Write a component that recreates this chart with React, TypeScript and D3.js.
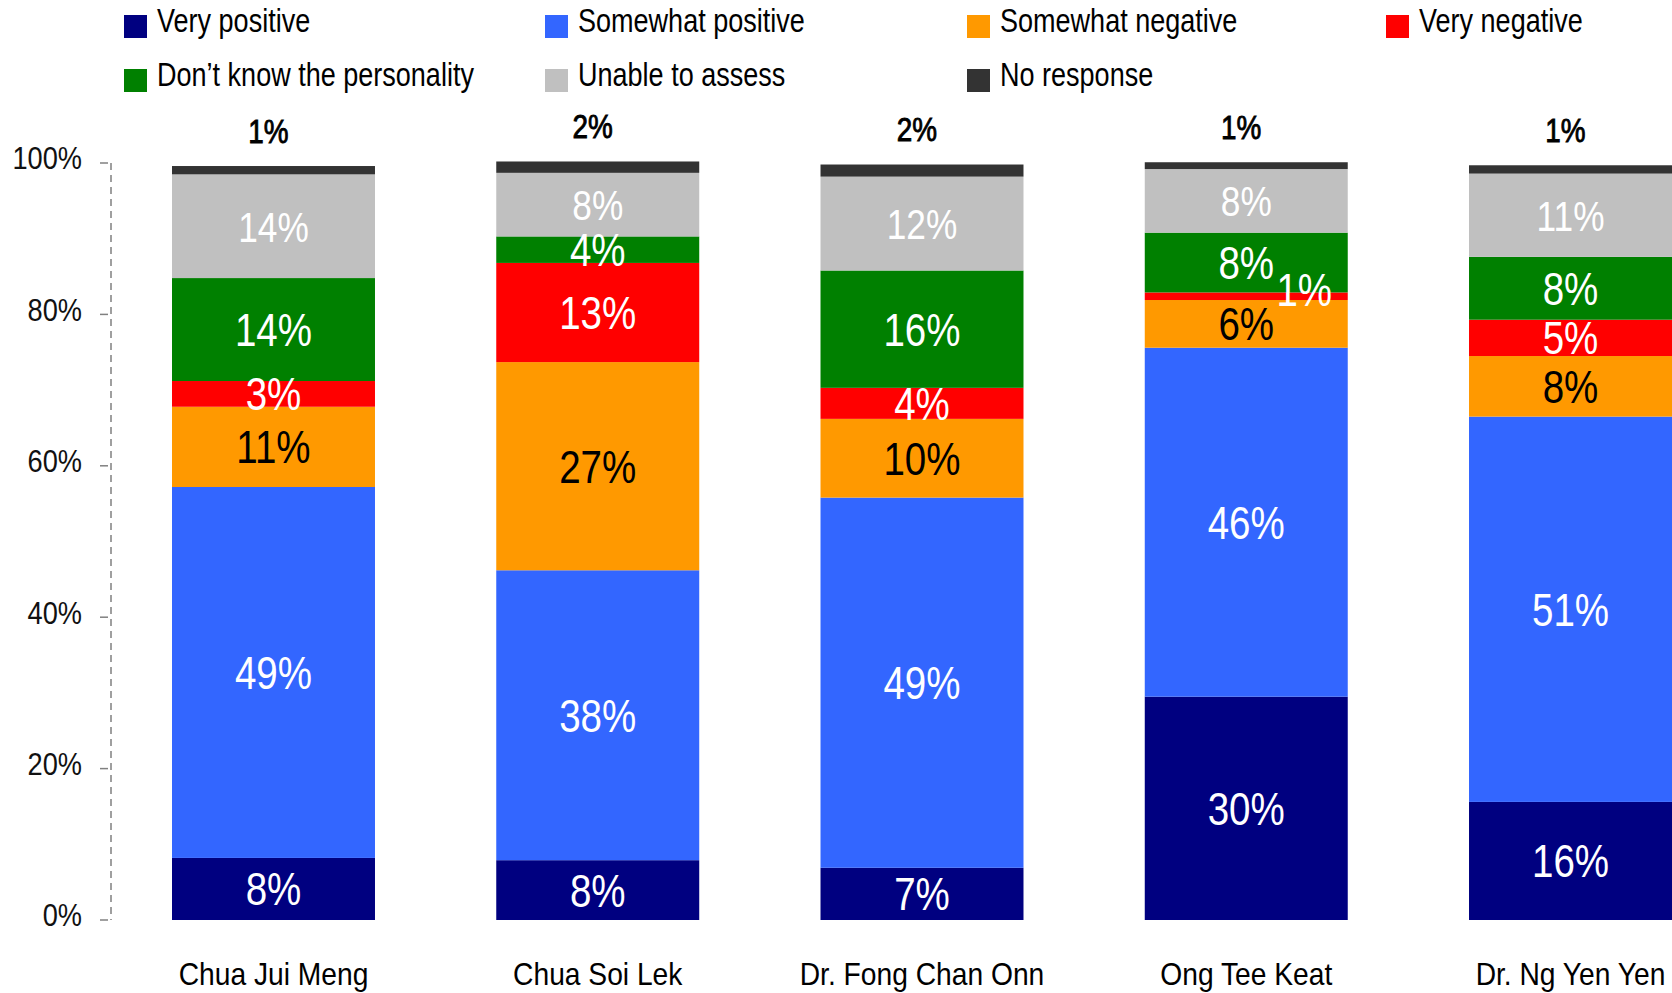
import React from "react";
import * as d3 from "d3";

const categories = ["Chua Jui Meng", "Chua Soi Lek", "Dr. Fong Chan Onn", "Ong Tee Keat", "Dr. Ng Yen Yen"];
const seriesNames = ["Very positive", "Somewhat positive", "Somewhat negative", "Very negative", "Don\u2019t know the personality", "Unable to assess", "No response"];
const veryPositive = [8.2, 7.9, 6.9, 29.5, 15.6];
const somewhatPositive = [49.0, 38.3, 48.9, 46.1, 50.9];
const somewhatNegative = [10.6, 27.5, 10.4, 6.3, 8.0];
const veryNegative = [3.4, 13.1, 4.1, 1.0, 4.8];
const dontKnow = [13.6, 3.5, 15.5, 7.9, 8.3];
const unableToAssess = [13.7, 8.4, 12.4, 8.4, 11.0];
const noResponse = [1.1, 1.5, 1.6, 0.9, 1.1];
const yTicks = [0, 20, 40, 60, 80, 100];

const colors = ["#000080", "#3366FF", "#FF9900", "#FF0000", "#008000", "#C0C0C0", "#333333"];
const labelColors = ["#fff", "#fff", "#000", "#fff", "#fff", "#fff", "#000"];
const FONT = "'Liberation Sans', Arial, sans-serif";

function T(props: { x: number; y: number; sx: number; size: number; anchor?: string; fill?: string; base?: string; sw?: number; children: any }) {
  const { x, y, sx, size, anchor = "middle", fill = "#000", base = "central", sw = 0, children } = props;
  return (
    <text transform={`translate(${x},${y}) scale(${sx},1)`} textAnchor={anchor} dominantBaseline={base}
      fontSize={size} fill={fill} stroke={sw ? fill : "none"} strokeWidth={sw}>{children}</text>
  );
}

export default function App() {
  const W = 1672, H = 993;
  const series = [veryPositive, somewhatPositive, somewhatNegative, veryNegative, dontKnow, unableToAssess, noResponse];
  const x = d3.scaleBand<string>().domain(categories).range([172, 1672]).paddingInner(0.374).paddingOuter(0);
  const y = d3.scaleLinear().domain([0, 100]).range([920, 163]);
  const rows = categories.map((c, i) => {
    const o: any = { cat: c };
    series.forEach((s, j) => (o["s" + j] = s[i]));
    return o;
  });
  const stack = d3.stack<any>().keys(series.map((_, j) => "s" + j))(rows);
  const bw = x.bandwidth();

  const legendCols = [124, 545, 967, 1386];
  const legendRows = [15, 69];

  return (
    <svg width={W} height={H} style={{ position: "absolute", left: 0, top: 0, background: "#fff" }} fontFamily={FONT}>
      {/* legend */}
      {seriesNames.map((n, j) => {
        const lx = legendCols[j % 4];
        const ly = legendRows[Math.floor(j / 4)];
        return (
          <g key={n}>
            <rect x={lx} y={ly} width={23} height={23} fill={colors[j]} />
            <T x={lx + 33} y={ly + 17} sx={0.795} size={34} anchor="start" base="alphabetic">{n}</T>
          </g>
        );
      })}
      {/* axis */}
      <line x1={111} x2={111} y1={y(100)} y2={y(0)} stroke="#808080" strokeWidth={1.5} strokeDasharray="7,5" />
      {yTicks.map((t) => (
        <g key={t}>
          <line x1={100} x2={108} y1={y(t)} y2={y(t)} stroke="#808080" strokeWidth={1.5} />
          <T x={82} y={y(t) - 5} sx={0.85} size={32} anchor="end" fill="#111">{t}%</T>
        </g>
      ))}
      {/* bars */}
      {stack.map((layer, j) => (
        <g key={j}>
          {layer.map((d, i) => (
            <rect key={i} x={x(categories[i])} y={y(d[1])} width={bw} height={y(d[0]) - y(d[1])} fill={colors[j]} />
          ))}
        </g>
      ))}
      {/* labels */}
      {stack.map((layer, j) => (
        <g key={"l" + j}>
          {layer.map((d, i) => {
            const v = d[1] - d[0];
            const cx = (x(categories[i]) as number) + bw / 2;
            const label = Math.round(v) + "%";
            if (j === 6) {
              return (
                <T key={i} x={cx - 5} y={y(d[1]) - 35} sx={0.82} size={34} sw={0.9}>{label}</T>
              );
            }
            const small = v < 2;
            return (
              <T key={i} x={cx + (small ? 58 : 0)} y={(y(d[0]) + y(d[1])) / 2 - (small ? 7 : 0)}
                sx={0.82} size={j === 5 ? 43 : 47} fill={labelColors[j]}>{label}</T>
            );
          })}
        </g>
      ))}
      {/* category labels */}
      {categories.map((c) => (
        <T key={c} x={(x(c) as number) + bw / 2} y={974} sx={0.91} size={31}>{c}</T>
      ))}
    </svg>
  );
}
